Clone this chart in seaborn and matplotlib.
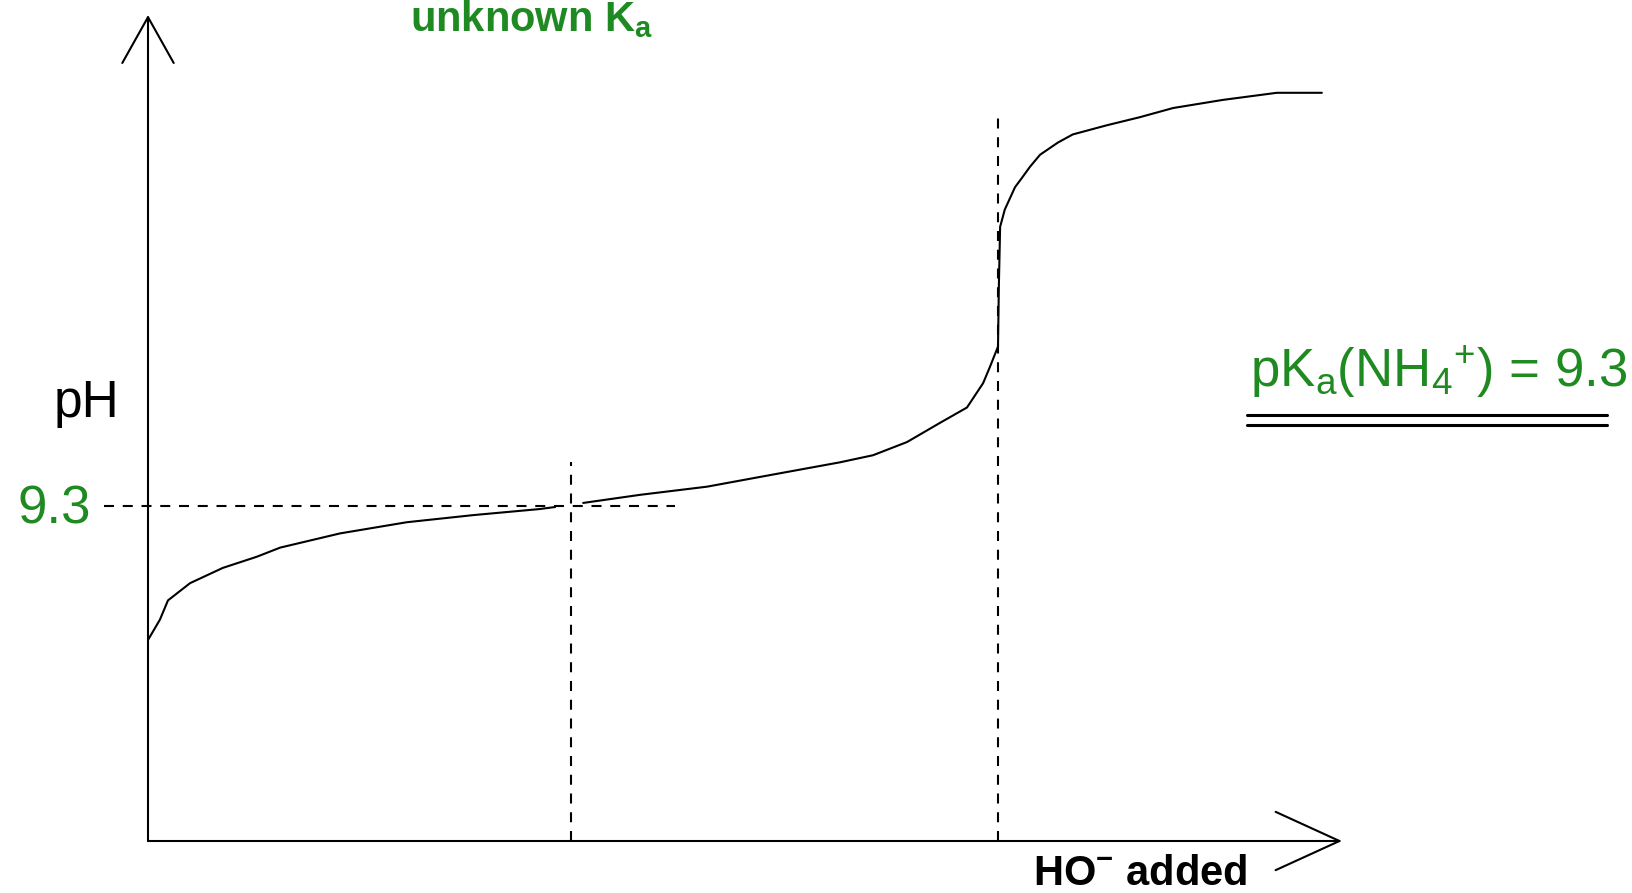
import numpy as np
import pandas as pd
import matplotlib
matplotlib.use("Agg")
import matplotlib.pyplot as plt
from matplotlib.lines import Line2D
import seaborn as sns

# ---------------- data ----------------
# amount of HO- added (equivalence point = 2.0, half-equivalence = 1.0)
vol_before_half = [0.000, 0.028, 0.047, 0.099, 0.176, 0.256, 0.311, 0.452,
                   0.609, 0.765, 0.922, 0.958]
ph_before_half = [7.98, 8.18, 8.37, 8.54, 8.69, 8.80, 8.89, 9.03,
                  9.14, 9.21, 9.27, 9.29]
vol_after_half = [1.024, 1.158, 1.315, 1.471, 1.628, 1.706, 1.786, 1.864,
                  1.927, 1.965, 1.981, 2.000, 2.002, 2.005, 2.016, 2.028,
                  2.040, 2.056, 2.075, 2.099, 2.141, 2.176, 2.256, 2.334,
                  2.412, 2.529, 2.656, 2.762]
ph_after_half = [9.33, 9.41, 9.49, 9.61, 9.73, 9.80, 9.93, 10.12,
                 10.27, 10.51, 10.67, 10.87, 11.46, 12.05, 12.22, 12.33,
                 12.44, 12.53, 12.64, 12.76, 12.88, 12.96, 13.05, 13.13,
                 13.22, 13.30, 13.37, 13.37]

pka = 9.3
half_equiv = 1.0
equiv = 2.0
ph_axis_origin = 6.0

title_text = "unknown K$_a$"
ylabel_text = "pH"
xlabel_text = "HO$^{-}$ added"
pka_label = "pK$_a$(NH$_4$$^{+}$) = 9.3"
pka_tick = "9.3"

GREEN = "#1f8a22"

# ---------------- figure ----------------
sns.set_style("white")
plt.rcParams["font.family"] = ["Liberation Sans", "DejaVu Sans"]
plt.rcParams["mathtext.default"] = "regular"

W, H = 1633, 893
fig = plt.figure(figsize=(W / 100, H / 100), dpi=100)
ax = fig.add_axes([0, 0, 1, 1])

# data -> pixel mapping: x=0 at px 148, x=2 at px 998 ; pH 6 at py 841, pH 9.3 at py 506
xs = 425.0
ys = 101.52
ax.set_xlim(-148 / xs, (W - 148) / xs)
ax.set_ylim(ph_axis_origin - (H - 841) / ys, ph_axis_origin + 841 / ys)

df = pd.DataFrame({
    "vol": vol_before_half + vol_after_half,
    "pH": ph_before_half + ph_after_half,
    "seg": ["a"] * len(vol_before_half) + ["b"] * len(vol_after_half),
})
sns.lineplot(data=df, x="vol", y="pH", units="seg", estimator=None, sort=False,
             color="black", lw=1.5, ax=ax, legend=False)

dash = dict(color="black", lw=1.5, dashes=(4.8, 4.2))
# pKa horizontal dashed line
ax.plot([-44 / xs, (675 - 148) / xs], [pka, pka], **dash)
# half equivalence vertical dashed
ax.plot([half_equiv * (571 - 148) / xs] * 2, [ph_axis_origin, ph_axis_origin + (841 - 462) / ys], **dash)
# equivalence vertical dashed
ax.plot([equiv * (998 - 148) / (2 * xs)] * 2, [ph_axis_origin, ph_axis_origin + (841 - 117) / ys], **dash)

# axes with open arrow heads
ax.annotate("", xy=(0, ph_axis_origin + (841 - 15) / ys), xytext=(0, ph_axis_origin),
            arrowprops=dict(arrowstyle="->,head_length=3.3,head_width=1.85",
                            lw=1.5, color="black", shrinkA=0, shrinkB=0, mutation_scale=10))
ax.annotate("", xy=((1342 - 148) / xs, ph_axis_origin), xytext=(0, ph_axis_origin),
            arrowprops=dict(arrowstyle="->,head_length=4.6,head_width=2.1",
                            lw=1.5, color="black", shrinkA=0, shrinkB=0, mutation_scale=10))

for s in ax.spines.values():
    s.set_visible(False)
ax.set_xticks([])
ax.set_yticks([])
ax.set_xlabel("")
ax.set_ylabel("")

def fx(px):
    return px / W

def fy(py):
    return 1 - py / H

fig.text(fx(410), fy(31), title_text, color=GREEN, fontsize=30, fontweight="bold",
         ha="left", va="baseline")
fig.text(fx(54), fy(417), ylabel_text, color="black", fontsize=37, ha="left", va="baseline")
fig.text(fx(18), fy(523), pka_tick, color=GREEN, fontsize=38, ha="left", va="baseline")
fig.text(fx(1250), fy(387), pka_label, color=GREEN, fontsize=38, ha="left", va="baseline")
fig.text(fx(1033), fy(885), xlabel_text, color="black", fontsize=30, fontweight="bold",
         ha="left", va="baseline")

for py in (415, 425):
    fig.add_artist(Line2D([fx(1247), fx(1607)], [fy(py), fy(py)], transform=fig.transFigure,
                          color="black", lw=2.2))

fig.savefig("out.png", dpi=100)
